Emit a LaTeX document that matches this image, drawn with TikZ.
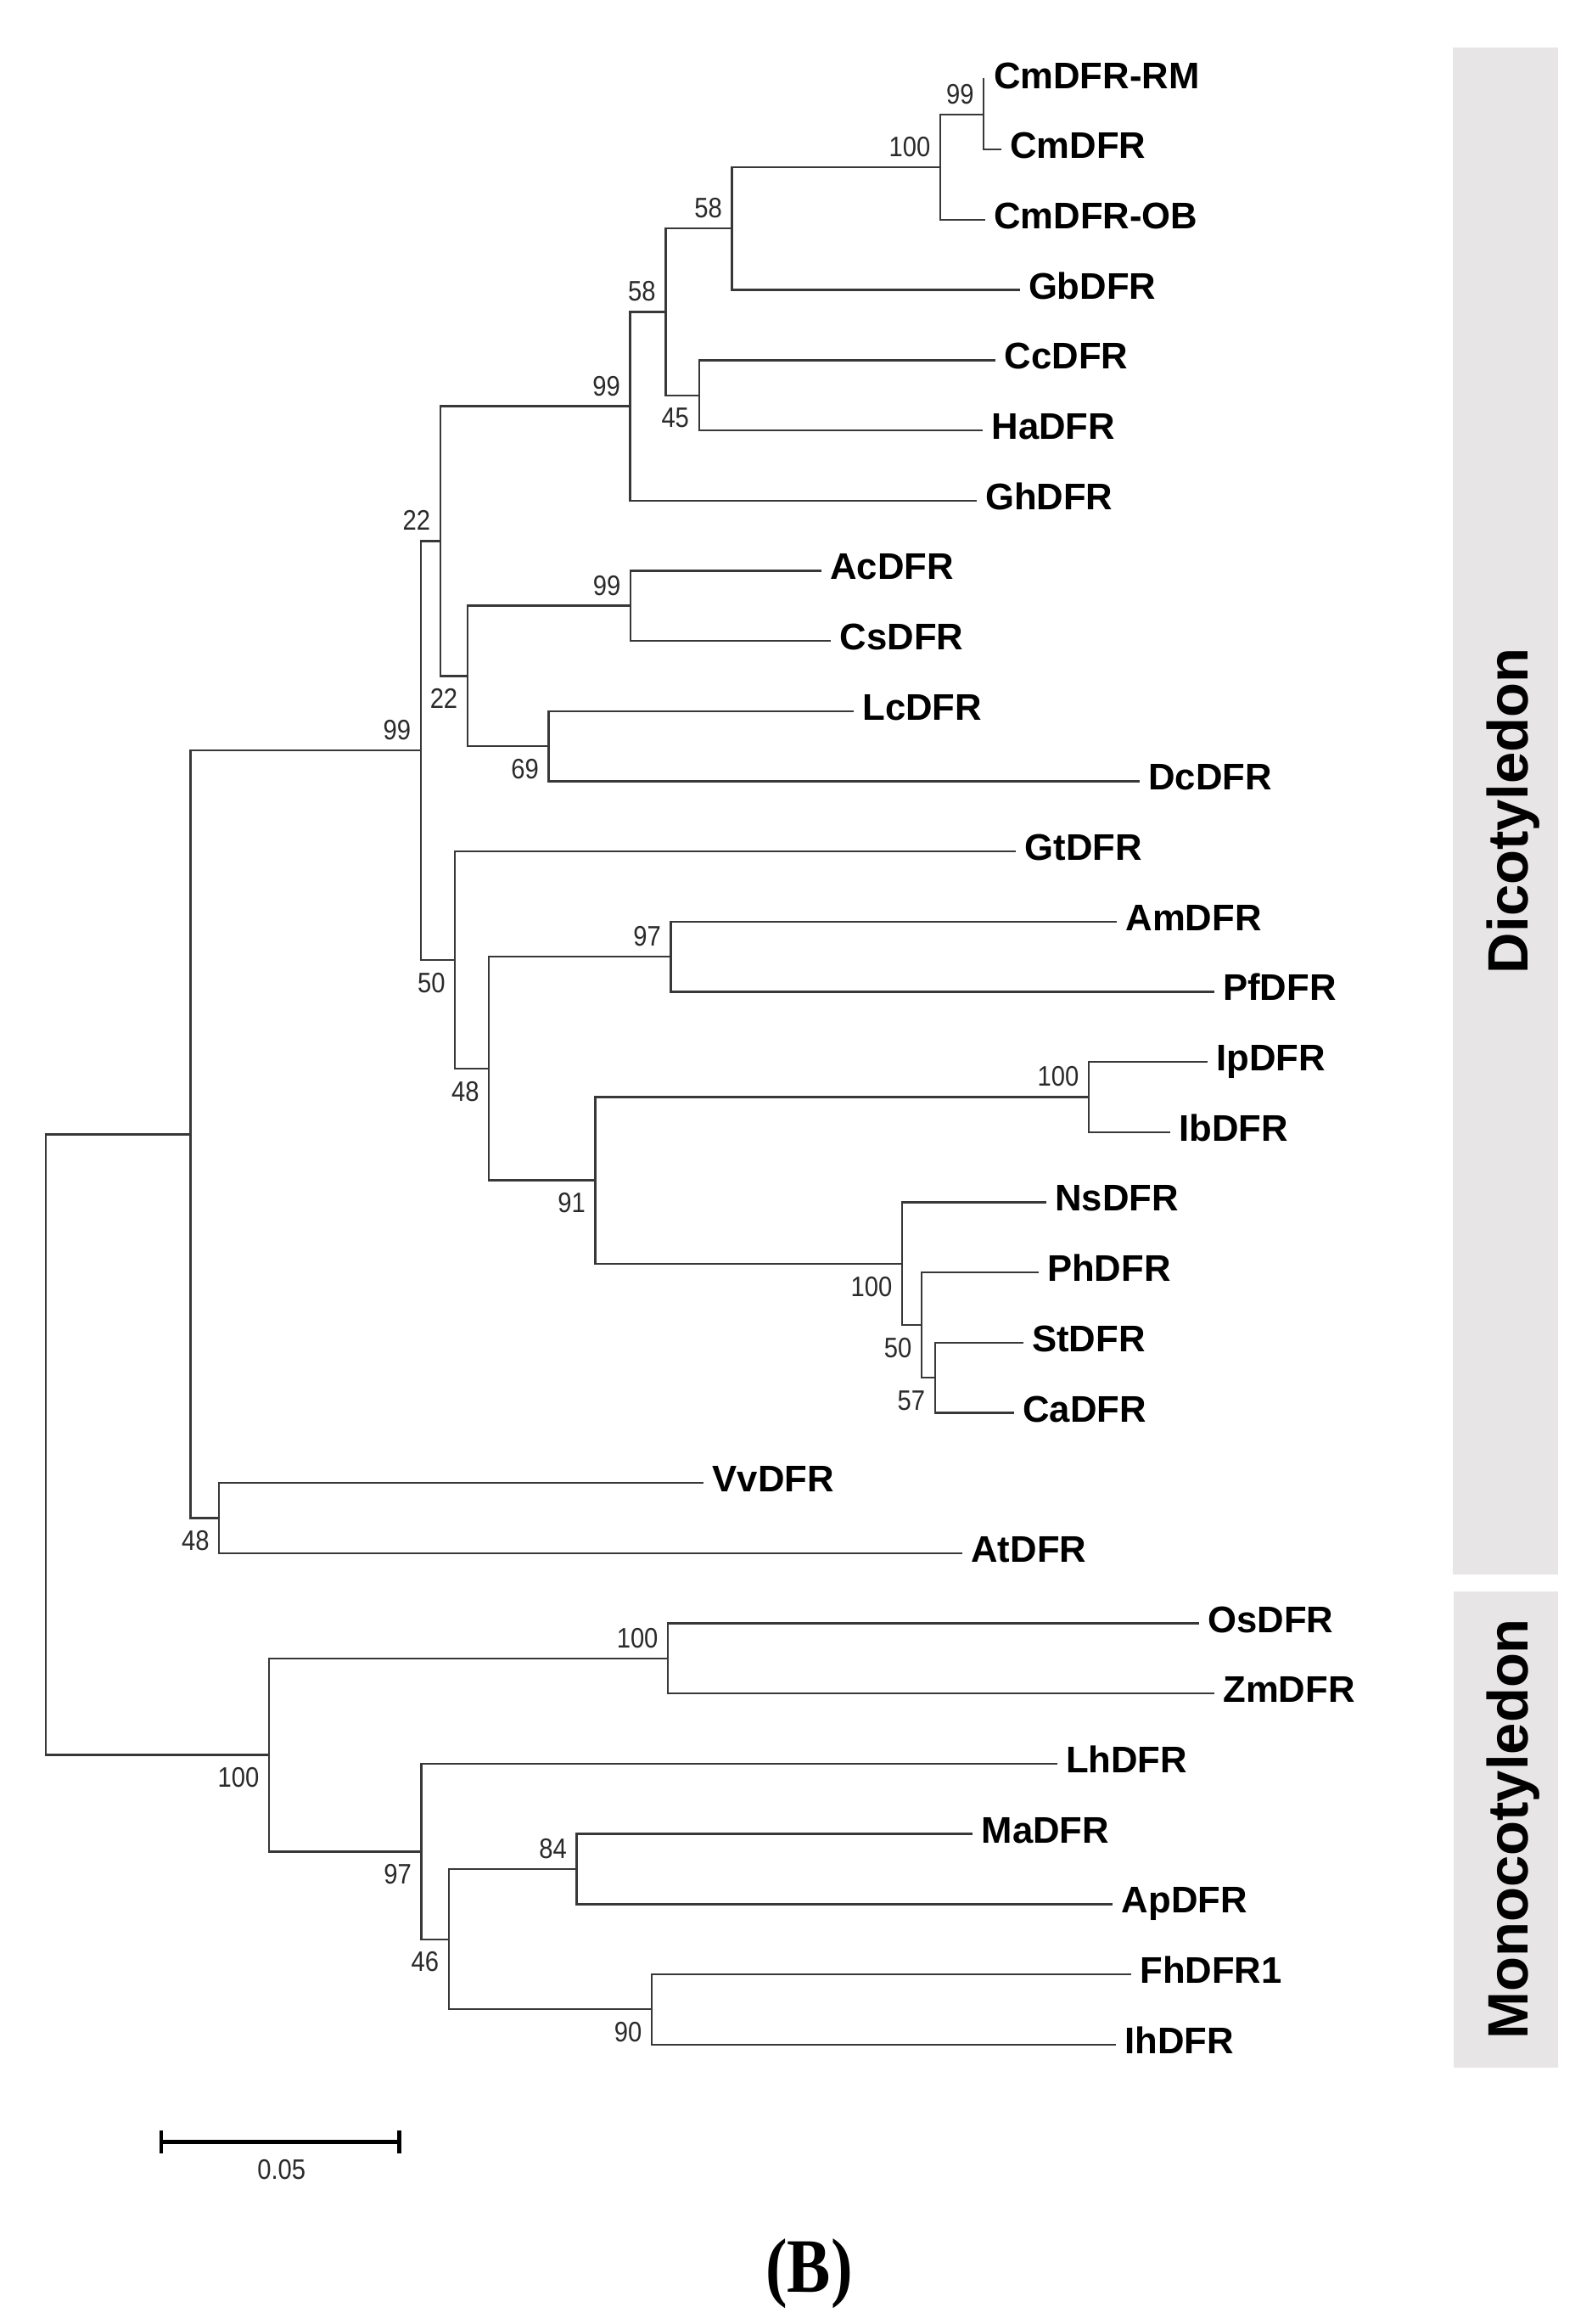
\documentclass[tikz,border=0pt]{standalone}
\usepackage{fontspec}
\usepackage{graphicx}
\setmainfont{Liberation Sans}
\newfontfamily\bsfont[FakeStretch=0.88]{Liberation Sans}
\newfontfamily\serifb{Liberation Serif}
\definecolor{boxgray}{HTML}{E8E5E6}
\definecolor{brcol}{HTML}{383838}
\definecolor{bscol}{HTML}{2A2A2A}
\tikzset{
  br/.style={draw=brcol, line width=1.35pt, line cap=rect},
  leaf/.style={anchor=west, inner xsep=6.5pt, inner ysep=0pt, text height=18pt, text depth=6pt,
    font=\bfseries\fontsize{25}{30}\selectfont, text=black},
  bs/.style={inner sep=0pt, text height=13.6pt, text depth=0pt, text=bscol,
    font=\bsfont\fontsize{19}{22}\selectfont},
  bsup/.style={bs, anchor=south east, xshift=-6.5pt, yshift=7pt},
  bsdn/.style={bs, anchor=north east, xshift=-6.5pt, yshift=-8pt},
  side/.style={rotate=90, anchor=base, inner sep=0pt, font=\bfseries\fontsize{38.4}{44}\selectfont, text=black}
}
\begin{document}
\begin{tikzpicture}[x=1pt,y=-1pt]
\useasboundingbox (0,0) rectangle (1074,1568);
\fill[white] (0,0) rectangle (1074,1568);

% side boxes
\fill[boxgray] (980.3,32.1) rectangle (1051.2,1062.3);
\fill[boxgray] (981.0,1073.6) rectangle (1051.5,1395.2);
\node[side] (dico) at (1030.9,547) {Dicotyledon};
\node[side] (mono) at (1030.9,1234) {Monocotyledon};

% leaves
\node[leaf] (l0)  at (663.9,53.6)   {CmDFR-RM};
\node[leaf] (l1)  at (675.0,100.95) {CmDFR};
\node[leaf] (l2)  at (664.0,148.3)  {CmDFR-OB};
\node[leaf] (l3)  at (687.4,195.65) {GbDFR};
\node[leaf] (l4)  at (671.3,243.0)  {CcDFR};
\node[leaf] (l5)  at (662.5,290.35) {HaDFR};
\node[leaf] (l6)  at (658.2,337.7)  {GhDFR};
\node[leaf] (l7)  at (553.5,385.05) {AcDFR};
\node[leaf] (l8)  at (560.1,432.4)  {CsDFR};
\node[leaf] (l9)  at (575.4,479.75) {LcDFR};
\node[leaf] (l10) at (768.3,527.1)  {DcDFR};
\node[leaf] (l11) at (685.0,574.45) {GtDFR};
\node[leaf] (l12) at (753.0,621.8)  {AmDFR};
\node[leaf] (l13) at (818.7,669.15) {PfDFR};
\node[leaf] (l14) at (814.2,716.5)  {IpDFR};
\node[leaf] (l15) at (789.0,763.85) {IbDFR};
\node[leaf] (l16) at (705.4,811.2)  {NsDFR};
\node[leaf] (l17) at (700.0,858.55) {PhDFR};
\node[leaf] (l18) at (689.8,905.9)  {StDFR};
\node[leaf] (l19) at (683.5,953.25) {CaDFR};
\node[leaf] (l20) at (474.2,1000.6) {VvDFR};
\node[leaf] (l21) at (648.7,1047.95) {AtDFR};
\node[leaf] (l22) at (808.5,1095.3) {OsDFR};
\node[leaf] (l23) at (818.8,1142.65) {ZmDFR};
\node[leaf] (l24) at (712.6,1190.0) {LhDFR};
\node[leaf] (l25) at (655.7,1237.35) {MaDFR};
\node[leaf] (l26) at (750.3,1284.7) {ApDFR};
\node[leaf] (l27) at (762.6,1332.05) {FhDFR1};
\node[leaf] (l28) at (752.3,1379.4) {IhDFR};

% internal nodes
\coordinate (n99a)  at (663.9,77.3);
\coordinate (n100a) at (634.5,112.8);
\coordinate (n58a)  at (493.9,154.2);
\coordinate (n45)   at (471.7,266.7);
\coordinate (n58b)  at (449.2,210.5);
\coordinate (n99b)  at (425.2,274.1);
\coordinate (n99c)  at (425.5,408.7);
\coordinate (n69)   at (370.3,503.4);
\coordinate (n22b)  at (315.5,456.1);
\coordinate (n22a)  at (297.1,365.1);
\coordinate (n97a)  at (452.7,645.5);
\coordinate (n100b) at (734.8,740.2);
\coordinate (n57)   at (631.0,929.6);
\coordinate (n50b)  at (622.0,894.1);
\coordinate (n100c) at (608.8,852.7);
\coordinate (n91)   at (401.8,796.4);
\coordinate (n48a)  at (330.0,721.0);
\coordinate (n50a)  at (307.1,647.7);
\coordinate (n99d)  at (283.9,506.4);
\coordinate (n48b)  at (147.9,1024.3);
\coordinate (ndic)  at (128.6,765.3);
\coordinate (n100d) at (450.8,1119.0);
\coordinate (n90)   at (439.9,1355.7);
\coordinate (n84)   at (389.2,1261.0);
\coordinate (n46)   at (302.8,1308.4);
\coordinate (n97b)  at (284.3,1249.2);
\coordinate (n100e) at (181.6,1184.1);
\coordinate (root)  at (31.0,974.7);

% branches
\draw[br] (n99a) |- (l0.west) (n99a) |- (l1.west);
\draw[br] (n100a) |- (n99a) (n100a) |- (l2.west);
\draw[br] (n58a) |- (n100a) (n58a) |- (l3.west);
\draw[br] (n45) |- (l4.west) (n45) |- (l5.west);
\draw[br] (n58b) |- (n58a) (n58b) |- (n45);
\draw[br] (n99b) |- (n58b) (n99b) |- (l6.west);
\draw[br] (n99c) |- (l7.west) (n99c) |- (l8.west);
\draw[br] (n69) |- (l9.west) (n69) |- (l10.west);
\draw[br] (n22b) |- (n99c) (n22b) |- (n69);
\draw[br] (n22a) |- (n99b) (n22a) |- (n22b);
\draw[br] (n97a) |- (l12.west) (n97a) |- (l13.west);
\draw[br] (n100b) |- (l14.west) (n100b) |- (l15.west);
\draw[br] (n57) |- (l18.west) (n57) |- (l19.west);
\draw[br] (n50b) |- (l17.west) (n50b) |- (n57);
\draw[br] (n100c) |- (l16.west) (n100c) |- (n50b);
\draw[br] (n91) |- (n100b) (n91) |- (n100c);
\draw[br] (n48a) |- (n97a) (n48a) |- (n91);
\draw[br] (n50a) |- (l11.west) (n50a) |- (n48a);
\draw[br] (n99d) |- (n22a) (n99d) |- (n50a);
\draw[br] (n48b) |- (l20.west) (n48b) |- (l21.west);
\draw[br] (ndic) |- (n99d) (ndic) |- (n48b);
\draw[br] (n100d) |- (l22.west) (n100d) |- (l23.west);
\draw[br] (n90) |- (l27.west) (n90) |- (l28.west);
\draw[br] (n84) |- (l25.west) (n84) |- (l26.west);
\draw[br] (n46) |- (n84) (n46) |- (n90);
\draw[br] (n97b) |- (l24.west) (n97b) |- (n46);
\draw[br] (n100e) |- (n100d) (n100e) |- (n97b);
\draw[br] (root) |- (ndic) (root) |- (n100e);

% bootstrap values
\node[bsup] (b1)  at (n99a)  {99};
\node[bsup] (b2)  at (n100a) {100};
\node[bsup] (b3)  at (n58a)  {58};
\node[bsup] (b4)  at (n58b)  {58};
\node[bsdn] (b5)  at (n45)   {45};
\node[bsup] (b6)  at (n99b)  {99};
\node[bsup] (b7)  at (n22a)  {22};
\node[bsup] (b8)  at (n99c)  {99};
\node[bsdn] (b9)  at (n22b)  {22};
\node[bsdn] (b10) at (n69)   {69};
\node[bsup] (b11) at (n99d)  {99};
\node[bsdn] (b12) at (n50a)  {50};
\node[bsup] (b13) at (n97a)  {97};
\node[bsdn] (b14) at (n48a)  {48};
\node[bsup] (b15) at (n100b) {100};
\node[bsdn] (b16) at (n91)   {91};
\node[bsdn] (b17) at (n100c) {100};
\node[bsdn] (b18) at (n50b)  {50};
\node[bsdn] (b19) at (n57)   {57};
\node[bsdn] (b20) at (n48b)  {48};
\node[bsup] (b21) at (n100d) {100};
\node[bsdn] (b22) at (n100e) {100};
\node[bsdn] (b23) at (n97b)  {97};
\node[bsup] (b24) at (n84)   {84};
\node[bsdn] (b25) at (n46)   {46};
\node[bsdn] (b26) at (n90)   {90};

% scale bar
\coordinate (sb1) at (108.8,1445.3);
\coordinate (sb2) at (269.2,1445.3);
\draw[line width=2.8pt, black] (sb1) -- (sb2);
\draw[line width=2.8pt, black] ([yshift=7.8pt]sb1) -- ([yshift=-7.8pt]sb1);
\draw[line width=2.8pt, black] ([yshift=7.8pt]sb2) -- ([yshift=-7.8pt]sb2);
\node[bs] (sbl) at (190,1463.5) {0.05};

% panel label
\node[inner sep=0pt] (panel) at (546,1534) {\scalebox{1}[1.18]{\serifb\bfseries\fontsize{44}{50}\selectfont (B)}};
\end{tikzpicture}
\end{document}
